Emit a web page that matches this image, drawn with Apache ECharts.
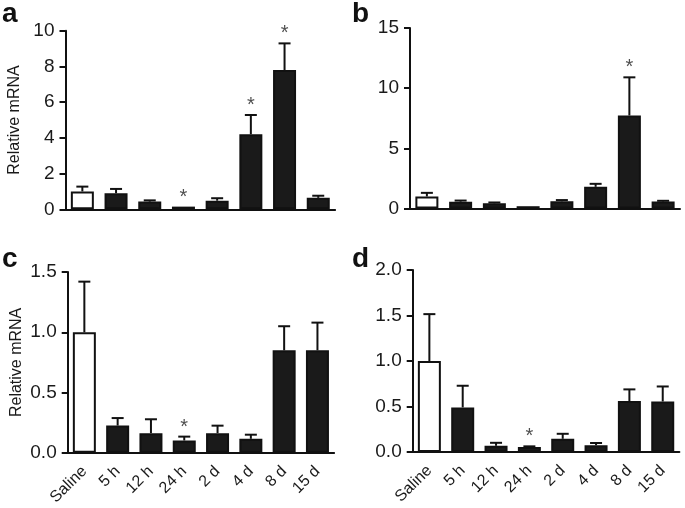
<!DOCTYPE html>
<html>
<head>
<meta charset="utf-8">
<script src="https://cdn.jsdelivr.net/npm/echarts@6/dist/echarts.min.js"></script>
<style>
  html, body { margin: 0; padding: 0; background: #fff; }
</style>
</head>
<body>
<div id="myChart" style="width: 685px; height: 508px;"></div>
<script>
// groups on the x axis
var categories = ['Saline', '5 h', '12 h', '24 h', '2 d', '4 d', '8 d', '15 d'];

// panel a
var meanA = [1.0, 0.9, 0.43, 0.15, 0.48, 4.2, 7.8, 0.64];
var semA = [0.27, 0.24, 0.07, 0, 0.14, 1.08, 1.49, 0.12];
var sigA = [0, 0, 0, 1, 0, 1, 1, 0];
var yTicksA = [0, 2, 4, 6, 8, 10];

// panel b
var meanB = [1.0, 0.57, 0.43, 0.19, 0.6, 1.8, 7.73, 0.58];
var semB = [0.3, 0.09, 0.07, 0, 0.1, 0.25, 3.17, 0.06];
var sigB = [0, 0, 0, 0, 0, 0, 1, 0];
var yTicksB = [0, 5, 10, 15];

// panel c
var meanC = [1.0, 0.226, 0.163, 0.102, 0.163, 0.116, 0.85, 0.85];
var semC = [0.42, 0.062, 0.115, 0.032, 0.062, 0.034, 0.2, 0.23];
var sigC = [0, 0, 0, 1, 0, 0, 0, 0];
var yTicksC = [0.0, 0.5, 1.0, 1.5];

// panel d
var meanD = [1.0, 0.49, 0.068, 0.054, 0.145, 0.074, 0.56, 0.555];
var semD = [0.515, 0.238, 0.033, 0.008, 0.055, 0.025, 0.128, 0.165];
var sigD = [0, 0, 0, 1, 0, 0, 0, 0];
var yTicksD = [0.0, 0.5, 1.0, 1.5, 2.0];

var FONT = '"Liberation Sans", Arial, Helvetica, sans-serif';
var INK = '#111';

var panels = [
  { letter: 'a', mean: meanA, sem: semA, sig: sigA, ticks: yTicksA, dec: 0, labels: false, name: 'Relative mRNA',
    grid: { left: 65.5, top: 30.7, width: 269.6, height: 178.6 }, lx: 2, ly: 0 },
  { letter: 'b', mean: meanB, sem: semB, sig: sigB, ticks: yTicksB, dec: 0, labels: false, name: '',
    grid: { left: 410, top: 28, width: 270, height: 180.5 }, lx: 352, ly: 0 },
  { letter: 'c', mean: meanC, sem: semC, sig: sigC, ticks: yTicksC, dec: 1, labels: true, name: 'Relative mRNA',
    grid: { left: 67.7, top: 272, width: 266.4, height: 181 }, lx: 2, ly: 245 },
  { letter: 'd', mean: meanD, sem: semD, sig: sigD, ticks: yTicksD, dec: 1, labels: true, name: '',
    grid: { left: 412.7, top: 270, width: 266.7, height: 182 }, lx: 352, ly: 245 }
];

function errItem(params, api) {
  var i = api.value(0);
  var m = api.value(1);
  var t = api.value(2);
  if (t <= m) return { type: 'group', children: [] };
  var p0 = api.coord([i, m]);
  var p1 = api.coord([i, t]);
  var hw = 6;
  return {
    type: 'group',
    children: [
      { type: 'line', shape: { x1: p0[0], y1: p0[1], x2: p1[0], y2: p1[1] }, style: { stroke: INK, lineWidth: 2 } },
      { type: 'line', shape: { x1: p1[0] - hw, y1: p1[1], x2: p1[0] + hw, y2: p1[1] }, style: { stroke: INK, lineWidth: 2 } }
    ]
  };
}

var grids = [], xAxes = [], yAxes = [], series = [], graphics = [];

panels.forEach(function (p, k) {
  grids.push(p.grid);
  xAxes.push({
    type: 'category',
    gridIndex: k,
    data: categories,
    axisLine: { lineStyle: { color: INK, width: 2 } },
    axisTick: { alignWithLabel: true, length: 6, lineStyle: { color: INK, width: 2 } },
    axisLabel: {
      show: p.labels, interval: 0, rotate: 45, margin: 16,
      fontSize: 16, fontFamily: FONT, color: '#1a1a1a'
    }
  });
  yAxes.push({
    type: 'value',
    gridIndex: k,
    min: p.ticks[0],
    max: p.ticks[p.ticks.length - 1],
    interval: p.ticks[1] - p.ticks[0],
    name: p.name,
    nameLocation: 'middle',
    nameGap: 43,
    nameTextStyle: { fontSize: 16, fontFamily: FONT, color: '#1a1a1a' },
    splitLine: { show: false },
    axisLine: { show: true, lineStyle: { color: INK, width: 2 } },
    axisTick: { show: true, length: 6, lineStyle: { color: INK, width: 2 } },
    axisLabel: {
      fontSize: 19, fontFamily: FONT, color: '#1a1a1a', margin: 11,
      formatter: function (v) { return v.toFixed(p.dec); }
    }
  });

  series.push({
    type: 'bar',
    xAxisIndex: k,
    yAxisIndex: k,
    barWidth: 23,
    data: p.mean.map(function (v, i) {
      return i === 0 ? { value: v, itemStyle: { color: '#fff' } } : v;
    }),
    itemStyle: { color: '#1a1a1a', borderColor: INK, borderWidth: 2 }
  });

  series.push({
    type: 'custom',
    xAxisIndex: k,
    yAxisIndex: k,
    renderItem: errItem,
    encode: { x: 0, y: [1, 2] },
    data: p.mean.map(function (v, i) { return [i, v, v + p.sem[i]]; }),
    z: 3
  });

  var stars = [];
  p.sig.forEach(function (s, i) {
    if (s) stars.push([i, p.mean[i] + p.sem[i]]);
  });
  series.push({
    type: 'scatter',
    xAxisIndex: k,
    yAxisIndex: k,
    symbolSize: 1,
    itemStyle: { color: 'rgba(0,0,0,0)' },
    data: stars,
    label: {
      show: true, position: 'top', distance: -1,
      formatter: '*', fontSize: 20, fontFamily: FONT, color: '#222'
    },
    z: 4
  });

  graphics.push({
    type: 'text',
    left: p.lx,
    top: p.ly,
    style: { text: p.letter, font: 'bold 28px ' + FONT, fill: '#111' }
  });
});

var myChart = echarts.init(document.getElementById('myChart'));
myChart.setOption({
  animation: false,
  backgroundColor: '#fff',
  grid: grids,
  xAxis: xAxes,
  yAxis: yAxes,
  series: series,
  graphic: graphics
});
</script>
</body>
</html>
